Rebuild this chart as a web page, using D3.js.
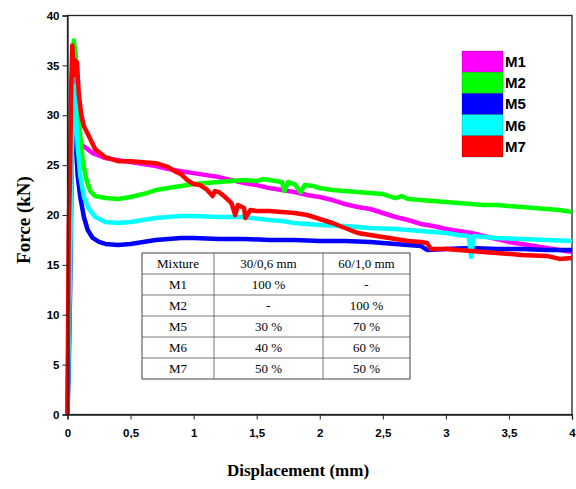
<!DOCTYPE html>
<html>
<head>
<meta charset="utf-8">
<script src="https://cdn.jsdelivr.net/npm/d3@7"></script>
<style>
  body { margin: 0; background: #fff; }
  svg { display: block; }
</style>
</head>
<body>
<svg id="chart" width="576" height="489"></svg>
<script>
// Force vs displacement
const m1 = [[0,0],[0.02,20],[0.04,31],[0.06,35.8],[0.075,33],[0.09,28.5],[0.11,27],[0.15,26.7],[0.2,26.2],[0.3,25.7],[0.4,25.5],[0.5,25.3],[0.6,25.1],[0.7,24.9],[0.8,24.6],[0.9,24.4],[1.0,24.2],[1.1,24.0],[1.2,23.8],[1.3,23.5],[1.4,23.2],[1.5,23.0],[1.6,22.7],[1.7,22.5],[1.8,22.3],[1.9,22.0],[2.0,21.8],[2.1,21.5],[2.2,21.1],[2.3,20.8],[2.4,20.6],[2.5,20.2],[2.6,19.8],[2.7,19.5],[2.8,19.1],[2.9,18.9],[3.0,18.6],[3.1,18.4],[3.2,18.2],[3.3,17.9],[3.4,17.6],[3.5,17.3],[3.6,17.1],[3.7,16.9],[3.8,16.7],[3.9,16.5],[4.0,16.3]]
const m2 = [[0,0],[0.02,22],[0.035,34],[0.05,37.5],[0.065,36],[0.08,32],[0.1,28],[0.12,25.5],[0.15,23.5],[0.18,22.4],[0.22,21.9],[0.3,21.7],[0.4,21.6],[0.5,21.8],[0.6,22.1],[0.7,22.5],[0.8,22.7],[0.9,22.9],[1.0,23.1],[1.1,23.2],[1.2,23.3],[1.3,23.4],[1.4,23.5],[1.5,23.4],[1.55,23.6],[1.6,23.5],[1.7,23.3],[1.72,22.4],[1.75,23.3],[1.8,23.1],[1.85,22.3],[1.88,23.0],[1.95,22.9],[2.0,22.7],[2.1,22.5],[2.2,22.4],[2.3,22.3],[2.4,22.2],[2.5,22.1],[2.6,21.7],[2.65,21.9],[2.7,21.6],[2.8,21.5],[2.9,21.4],[3.0,21.3],[3.1,21.2],[3.2,21.1],[3.3,21.0],[3.4,21.0],[3.5,20.9],[3.6,20.8],[3.7,20.7],[3.8,20.6],[3.9,20.5],[4.0,20.3]]
const m5 = [[0,0],[0.01,5],[0.02,12],[0.03,22],[0.045,33],[0.06,29],[0.08,24],[0.1,21.9],[0.13,19.8],[0.16,18.5],[0.2,17.7],[0.25,17.3],[0.3,17.1],[0.4,17.0],[0.5,17.1],[0.6,17.3],[0.7,17.5],[0.8,17.6],[0.9,17.7],[1.0,17.7],[1.2,17.6],[1.4,17.6],[1.6,17.5],[1.8,17.5],[2.0,17.4],[2.2,17.4],[2.4,17.3],[2.5,17.2],[2.6,17.1],[2.8,16.9],[2.85,16.5],[3.0,16.6],[3.2,16.7],[3.4,16.6],[3.6,16.6],[3.8,16.5],[4.0,16.5]]
const m6 = [[0,0],[0.02,14],[0.035,26],[0.05,33],[0.065,31],[0.08,27],[0.1,24],[0.13,21.8],[0.17,20.6],[0.22,19.8],[0.3,19.3],[0.4,19.2],[0.5,19.3],[0.6,19.5],[0.7,19.7],[0.8,19.8],[0.9,19.9],[1.0,19.9],[1.2,19.8],[1.4,19.8],[1.6,19.5],[1.7,19.4],[1.8,19.2],[2.0,19.0],[2.2,18.9],[2.4,18.7],[2.6,18.6],[2.8,18.4],[3.0,18.2],[3.1,18.0],[3.18,17.9],[3.2,15.8],[3.22,17.9],[3.4,17.7],[3.6,17.6],[3.8,17.5],[4.0,17.4]]
const m7 = [[0,0],[0.005,10],[0.01,19],[0.02,24],[0.03,33],[0.038,37],[0.05,34],[0.06,35.5],[0.075,35.3],[0.09,32],[0.11,30],[0.13,28.9],[0.17,27.9],[0.22,26.6],[0.3,25.8],[0.4,25.4],[0.5,25.4],[0.6,25.3],[0.7,25.2],[0.8,24.8],[0.85,24.4],[0.9,24.1],[0.95,23.5],[1.0,23.1],[1.05,23.0],[1.1,22.6],[1.15,21.9],[1.17,22.4],[1.2,22.3],[1.25,21.8],[1.3,21.2],[1.33,20.0],[1.35,21.0],[1.4,20.7],[1.41,19.7],[1.45,20.5],[1.5,20.4],[1.6,20.4],[1.7,20.3],[1.8,20.2],[1.9,20.0],[2.0,19.6],[2.1,19.2],[2.2,18.7],[2.3,18.2],[2.4,18.0],[2.5,17.8],[2.6,17.6],[2.7,17.4],[2.8,17.3],[2.85,17.2],[2.88,16.6],[3.0,16.6],[3.2,16.4],[3.4,16.2],[3.6,16.0],[3.8,15.9],[3.9,15.6],[4.0,15.7]]

const seriesNames = ["M1", "M2", "M5", "M6", "M7"]
const seriesColors = ["#ff00ff", "#00ff00", "#0000ff", "#00ffff", "#ff0000"]
const seriesData = [m1, m2, m5, m6, m7]

const xTicks = [0, 0.5, 1, 1.5, 2, 2.5, 3, 3.5, 4]
const yTicks = [0, 5, 10, 15, 20, 25, 30, 35, 40]

// composition table
const tableHead = ["Mixture", "30/0,6 mm", "60/1,0 mm"]
const tableRows = [
  ["M1", "100 %", "-"],
  ["M2", "-", "100 %"],
  ["M5", "30 %", "70 %"],
  ["M6", "40 %", "60 %"],
  ["M7", "50 %", "50 %"]
]

let svg = d3.select("#chart")
let pLeft = 67.5, pRight = 572, pTop = 15.5, pBottom = 414.5

let x = d3.scaleLinear().domain([0, 4]).range([pLeft, pRight])
let y = d3.scaleLinear().domain([0, 40]).range([pBottom, pTop])

// frame
svg.append("rect")
  .attr("x", pLeft).attr("y", pTop)
  .attr("width", pRight - pLeft).attr("height", pBottom - pTop)
  .attr("fill", "none").attr("stroke", "#222").attr("stroke-width", 1.3)

// curves
let line = d3.line().x(d => x(d[0])).y(d => y(d[1]))

svg.append("g").selectAll("path")
  .data(seriesData)
  .enter().append("path")
    .attr("d", d => line(d))
    .attr("fill", "none")
    .attr("stroke", (d, i) => seriesColors[i])
    .attr("stroke-width", 4.5)
    .attr("stroke-linejoin", "round")

// axes
let xAxis = svg.append("g")
  .attr("transform", "translate(0," + pBottom + ")")
  .call(d3.axisBottom(x).tickValues(xTicks).tickSize(5).tickPadding(9)
    .tickFormat(d => String(d).replace(".", ",")))
let yAxis = svg.append("g")
  .attr("transform", "translate(" + pLeft + ",0)")
  .call(d3.axisLeft(y).tickValues(yTicks).tickSize(5).tickPadding(3))

;[xAxis, yAxis].forEach(a => {
  a.select(".domain").attr("stroke", "#222").attr("stroke-width", 1.3)
  a.selectAll(".tick line").attr("stroke", "#222")
  a.selectAll("text")
    .attr("fill", "#000")
    .style("font", "bold 11.5px 'Liberation Sans', Arial, sans-serif")
})

// axis titles
svg.append("text")
  .attr("x", 298).attr("y", 476)
  .attr("text-anchor", "middle")
  .style("font", "bold 17px 'Liberation Serif', 'Times New Roman', serif")
  .text("Displacement (mm)")

svg.append("text")
  .attr("transform", "translate(30,220) rotate(-90)")
  .attr("text-anchor", "middle")
  .style("font", "bold 19px 'Liberation Serif', 'Times New Roman', serif")
  .text("Force (kN)")

// legend
let legend = svg.append("g").attr("transform", "translate(462,51)")
legend.selectAll("rect")
  .data(seriesNames)
  .enter().append("rect")
    .attr("x", 0).attr("y", (d, i) => i * 21.2)
    .attr("width", 41).attr("height", 21.2)
    .attr("fill", (d, i) => seriesColors[i])
    .attr("stroke", "rgba(0,0,0,0.35)").attr("stroke-width", 0.6)
legend.selectAll("text")
  .data(seriesNames)
  .enter().append("text")
    .attr("x", 43).attr("y", (d, i) => i * 21.2 + 16)
    .style("font", "bold 15px 'Liberation Sans Narrow', 'Arial Narrow', sans-serif")
    .text(d => d)

// table
let colX = [142, 214, 323, 410]
let rowH = 21, tTop = 253
let table = svg.append("g")
let allRows = [tableHead].concat(tableRows)

table.append("rect")
  .attr("x", colX[0]).attr("y", tTop)
  .attr("width", colX[3] - colX[0]).attr("height", rowH * allRows.length)
  .attr("fill", "#fff").attr("stroke", "#444").attr("stroke-width", 1)

allRows.forEach((row, r) => {
  if (r > 0) {
    table.append("line")
      .attr("x1", colX[0]).attr("x2", colX[3])
      .attr("y1", tTop + r * rowH).attr("y2", tTop + r * rowH)
      .attr("stroke", "#555").attr("stroke-width", 0.8)
  }
  row.forEach((cell, c) => {
    table.append("text")
      .attr("x", (colX[c] + colX[c + 1]) / 2)
      .attr("y", tTop + r * rowH + 15)
      .attr("text-anchor", "middle")
      .style("font", "13px 'Liberation Serif', 'Times New Roman', serif")
      .text(cell)
  })
})
;[1, 2].forEach(c => {
  table.append("line")
    .attr("x1", colX[c]).attr("x2", colX[c])
    .attr("y1", tTop).attr("y2", tTop + rowH * allRows.length)
    .attr("stroke", "#555").attr("stroke-width", 0.8)
})
</script>
</body>
</html>
